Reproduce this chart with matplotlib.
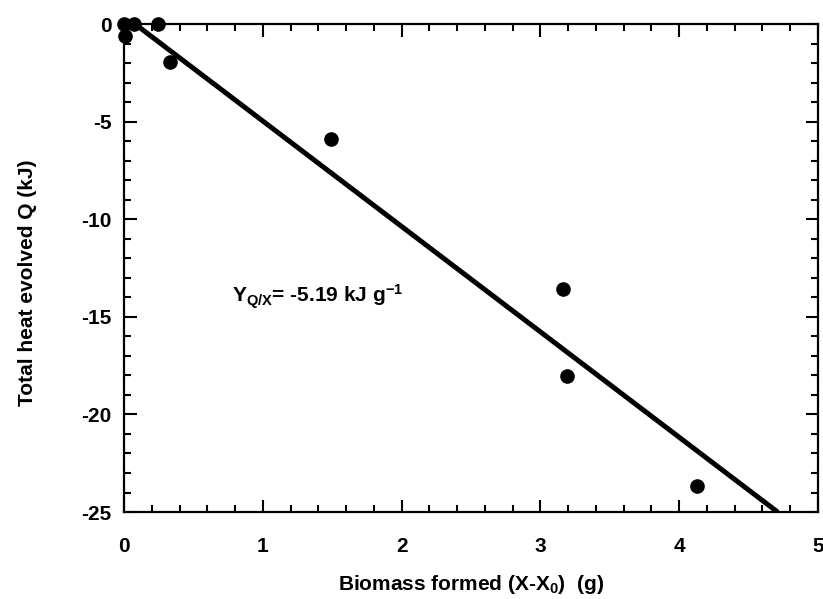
import matplotlib
matplotlib.use("Agg")
import matplotlib.pyplot as plt
import numpy as np
from matplotlib.ticker import MultipleLocator

plt.rcParams['font.family'] = ['Liberation Sans', 'DejaVu Sans']
plt.rcParams['font.weight'] = 'bold'
plt.rcParams['axes.unicode_minus'] = False
plt.rcParams['mathtext.fontset'] = 'custom'
plt.rcParams['mathtext.rm'] = 'Liberation Sans:bold'
plt.rcParams['mathtext.it'] = 'Liberation Sans:bold'
plt.rcParams['mathtext.bf'] = 'Liberation Sans:bold'

# measured points
biomass = [0.0, 0.07, 0.245, 0.007, 0.33, 1.49, 3.16, 3.19, 4.13]
heat = [0.0, 0.0, 0.0, -0.61, -1.95, -5.91, -13.58, -18.03, -23.67]

# fitted line (as drawn)
fit_slope = -5.4
fit_intercept = 0.43
fit_x = [0.08, 4.71]

xticks = [0, 1, 2, 3, 4, 5]
yticks = [0, -5, -10, -15, -20, -25]

fig = plt.figure(figsize=(8.23, 5.99), dpi=100)
ax = fig.add_axes([0.1507, 0.1452, 0.8432, 0.8147])

fx = np.array(fit_x)
ax.plot(fx, fit_intercept + fit_slope * fx, color='black', lw=3.6, solid_capstyle='butt')
ax.plot(biomass, heat, 'o', color='black', ms=9.5, clip_on=False, zorder=5)

ax.set_xlim(0, 5)
ax.set_ylim(-25, 0)
ax.set_xticks(xticks)
ax.set_yticks(yticks)
ax.xaxis.set_minor_locator(MultipleLocator(0.2))
ax.yaxis.set_minor_locator(MultipleLocator(1))
ax.tick_params(which='both', direction='in', top=True, right=True, width=1.5, labelsize=15)
ax.tick_params(axis='x', which='major', pad=18)
ax.tick_params(axis='y', which='major', pad=9)
ax.tick_params(which='major', length=9)
ax.tick_params(which='minor', length=5)
for s in ax.spines.values():
    s.set_linewidth(1.6)
for lab in ax.get_xticklabels() + ax.get_yticklabels():
    lab.set_fontweight('bold')

ax.set_xlabel(r'Biomass formed (X-X$_0$)  (g)', fontsize=15, fontweight='bold', labelpad=12)
ax.set_ylabel('Total heat evolved Q (kJ)', fontsize=15, fontweight='bold', labelpad=34)
ax.yaxis.set_label_coords(-0.125, 0.47)

ax.text(0.78, -13.98, r'Y$_{Q/X}$= -5.19 kJ g$^{-1}$', fontsize=15, fontweight='bold',
        va='center', ha='left')

fig.savefig('out.png', dpi=100)
